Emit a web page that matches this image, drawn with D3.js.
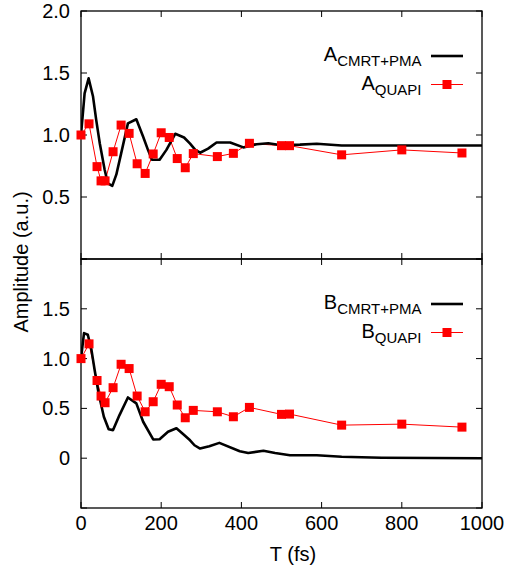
<!DOCTYPE html>
<html><head><meta charset="utf-8">
<script src="https://cdn.jsdelivr.net/npm/d3@7"></script>
<style>body{margin:0;background:#fff}text{font-family:"Liberation Sans",Arial,Helvetica,sans-serif;fill:#000}</style>
</head><body><svg id="c" width="525" height="565"></svg>
<script>
// ---- data ----
const xTicks = [0, 200, 400, 600, 800, 1000];
const topYTicks = [0.5, 1.0, 1.5, 2.0];
const botYTicks = [0, 0.5, 1.0, 1.5];
const tQuapi = [0,20,40,50,60,80,100,120,140,160,180,200,220,240,260,280,340,380,420,500,520,650,800,950];
const aQuapi = [1.0,1.09,0.745,0.63,0.63,0.865,1.08,1.013,0.768,0.69,0.847,1.018,0.98,0.81,0.736,0.85,0.826,0.852,0.933,0.914,0.914,0.84,0.88,0.855];
const bQuapi = [1.0,1.148,0.78,0.624,0.557,0.708,0.943,0.90,0.624,0.466,0.567,0.742,0.718,0.534,0.406,0.48,0.466,0.416,0.51,0.44,0.443,0.332,0.342,0.312];
const tA = [0,9,19,30,38,47,59,67,78,88,100,117,138,155,167,177,196,213,235,257,272,285,297,317,338,372,405,438,467,500,546,588,650,750,1000];
const aCmrt = [1.0,1.336,1.457,1.31,1.12,0.93,0.72,0.61,0.59,0.68,0.85,1.094,1.127,0.986,0.88,0.80,0.80,0.88,1.01,0.98,0.93,0.88,0.857,0.89,0.94,0.94,0.90,0.925,0.933,0.917,0.922,0.93,0.915,0.915,0.915];
const tB = [0,7.5,17,26,34,44,57,69,80,96,117,138,155,180,196,217,238,258,272,283,297,320,345,396,417,455,484,521,588,650,750,1000];
const bCmrt = [1.0,1.256,1.24,1.09,0.886,0.65,0.416,0.29,0.282,0.433,0.61,0.55,0.366,0.188,0.19,0.265,0.30,0.23,0.18,0.13,0.097,0.12,0.154,0.07,0.053,0.074,0.053,0.03,0.03,0.015,0.005,0.0];

const svg = d3.select("#c");
const L = 81, R = 482, T0 = 11, M = 259, B = 508;
const x = d3.scaleLinear().domain([0, 1000]).range([L, R]);
const yTop = d3.scaleLinear().domain([0, 2]).range([M, T0]);
const yBot = d3.scaleLinear().domain([-0.5, 2]).range([B, M]);
const fmt = v => v === 0 ? "0" : d3.format(".1f")(v);

function panel(y, yTicksLab, yAllTicks, showX, cmrtT, cmrtV, qV, lab) {
  const [y0, y1] = [y.range()[1], y.range()[0]];
  const g = svg.append("g");
  const tl = 6;
  xTicks.forEach(t => {
    g.append("line").attr("x1", x(t)).attr("x2", x(t)).attr("y1", y1).attr("y2", y1 - tl).attr("stroke", "#000").attr("stroke-width", 1);
    g.append("line").attr("x1", x(t)).attr("x2", x(t)).attr("y1", y0).attr("y2", y0 + tl).attr("stroke", "#000").attr("stroke-width", 1);
  });
  yAllTicks.forEach(v => {
    g.append("line").attr("x1", L).attr("x2", L + tl).attr("y1", y(v)).attr("y2", y(v)).attr("stroke", "#000").attr("stroke-width", 1);
    g.append("line").attr("x1", R).attr("x2", R - tl).attr("y1", y(v)).attr("y2", y(v)).attr("stroke", "#000").attr("stroke-width", 1);
  });
  yTicksLab.forEach(v => {
    g.append("text").attr("x", 70).attr("y", y(v) + 7).attr("text-anchor", "end").attr("font-size", 20).text(fmt(v));
  });
  if (showX) {
    xTicks.forEach(t => g.append("text").attr("x", x(t)).attr("y", 530).attr("text-anchor", "middle").attr("font-size", 20).text(t));
  }
  const clipId = "clip" + lab;
  svg.append("clipPath").attr("id", clipId).append("rect").attr("x", L).attr("y", y0).attr("width", R - L).attr("height", y1 - y0);
  const pg = g.append("g").attr("clip-path", `url(#${clipId})`);
  const line = d3.line().x(d => x(d[0])).y(d => y(d[1]));
  pg.append("path").datum(tQuapi.map((t, i) => [t, qV[i]])).attr("d", line).attr("fill", "none").attr("stroke", "#ff0000").attr("stroke-width", 1);
  pg.append("path").datum(cmrtT.map((t, i) => [t, cmrtV[i]])).attr("d", line).attr("fill", "none").attr("stroke", "#000").attr("stroke-width", 2.6).attr("stroke-linejoin", "round");
  g.append("rect").attr("x", L).attr("y", y0).attr("width", R - L).attr("height", y1 - y0).attr("fill", "none").attr("stroke", "#000").attr("stroke-width", 1.3);
  g.selectAll(null).data(tQuapi.map((t, i) => [t, qV[i]])).enter().append("rect")
    .attr("x", d => x(d[0]) - 4.5).attr("y", d => y(d[1]) - 4.5).attr("width", 9).attr("height", 9).attr("fill", "#ff0000");
  // legend
  const ly1 = y0 + 45, ly2 = ly1 + 28.5;
  const t1 = g.append("text").attr("x", 421.5).attr("y", ly1 + 5).attr("text-anchor", "end").attr("font-size", 20);
  t1.append("tspan").text(lab);
  t1.append("tspan").attr("font-size", 15).attr("dy", 5).text("CMRT+PMA");
  g.append("line").attr("x1", 431).attr("x2", 463).attr("y1", ly1).attr("y2", ly1).attr("stroke", "#000").attr("stroke-width", 2.6);
  const t2 = g.append("text").attr("x", 421.5).attr("y", ly2 + 5).attr("text-anchor", "end").attr("font-size", 20);
  t2.append("tspan").text(lab);
  t2.append("tspan").attr("font-size", 15).attr("dy", 5).text("QUAPI");
  g.append("line").attr("x1", 431).attr("x2", 463).attr("y1", ly2).attr("y2", ly2).attr("stroke", "#ff0000").attr("stroke-width", 1);
  g.append("rect").attr("x", 447 - 4.5).attr("y", ly2 - 4.5).attr("width", 9).attr("height", 9).attr("fill", "#ff0000");
}
panel(yTop, topYTicks, [0, 0.5, 1, 1.5, 2], false, tA, aCmrt, aQuapi, "A");
panel(yBot, botYTicks, [-0.5, 0, 0.5, 1, 1.5, 2], true, tB, bCmrt, bQuapi, "B");

svg.append("text").attr("x", 293).attr("y", 561).attr("text-anchor", "middle").attr("font-size", 20).text("T (fs)");
svg.append("text").attr("transform", "translate(28,262) rotate(-90)").attr("text-anchor", "middle").attr("font-size", 20).text("Amplitude (a.u.)");
</script></body></html>
